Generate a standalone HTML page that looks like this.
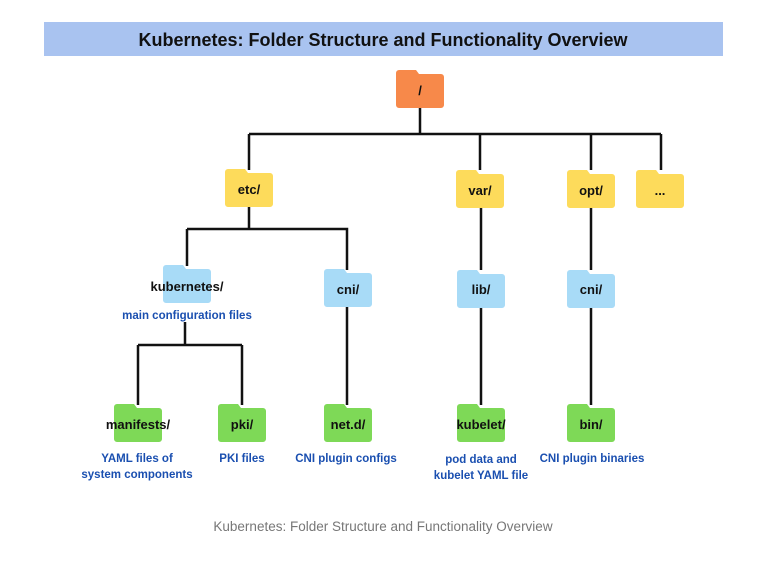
<!DOCTYPE html>
<html><head><style>
body{margin:0;background:#fff;}
svg text{font-family:"Liberation Sans",sans-serif;}
</style></head><body>
<svg width="762" height="572" viewBox="0 0 762 572" xmlns="http://www.w3.org/2000/svg">
<defs>
<g id="f"><path d="M0,3 a3,3 0 0 1 3,-3 h17 l3,4 h22 a3,3 0 0 1 3,3 v28 a3,3 0 0 1 -3,3 h-42 a3,3 0 0 1 -3,-3 z"/></g>
</defs>
<rect x="44" y="22" width="679" height="34" fill="#a9c3f0"/>
<text x="383" y="46" font-size="18" font-weight="bold" text-anchor="middle" fill="#111">Kubernetes: Folder Structure and Functionality Overview</text>
<g stroke="#111" stroke-width="2.5" fill="none">
<path d="M420,106 V134 M249,134 H661 M249,134 V170 M480,134 V170 M591,134 V170 M661,134 V170"/>
<path d="M249,207 V229 M187,229 H347 V270 M187,229 V266"/>
<path d="M185,322 V345 M138,345 H242 M138,345 V405 M242,345 V405 M347,307 V405"/>
<path d="M481,208 V270 M481,307 V405 M591,208 V270 M591,307 V405"/>
</g>
<use href="#f" x="396" y="70" fill="#f7894a"/>
<use href="#f" x="225" y="169" fill="#fddb5b"/>
<use href="#f" x="456" y="170" fill="#fddb5b"/>
<use href="#f" x="567" y="170" fill="#fddb5b"/>
<use href="#f" x="636" y="170" fill="#fddb5b"/>
<use href="#f" x="163" y="265" fill="#a8dbf7"/>
<use href="#f" x="324" y="269" fill="#a8dbf7"/>
<use href="#f" x="457" y="270" fill="#a8dbf7"/>
<use href="#f" x="567" y="270" fill="#a8dbf7"/>
<use href="#f" x="114" y="404" fill="#7ed957"/>
<use href="#f" x="218" y="404" fill="#7ed957"/>
<use href="#f" x="324" y="404" fill="#7ed957"/>
<use href="#f" x="457" y="404" fill="#7ed957"/>
<use href="#f" x="567" y="404" fill="#7ed957"/>
<g font-size="13" font-weight="bold" fill="#111" text-anchor="middle">
<text x="420" y="95">/</text>
<text x="249" y="194">etc/</text>
<text x="480" y="195">var/</text>
<text x="591" y="195">opt/</text>
<text x="660" y="195">...</text>
<text x="187" y="291">kubernetes/</text>
<text x="348" y="294">cni/</text>
<text x="481" y="294">lib/</text>
<text x="591" y="294">cni/</text>
<text x="138" y="429">manifests/</text>
<text x="242" y="429">pki/</text>
<text x="348" y="429">net.d/</text>
<text x="481" y="429">kubelet/</text>
<text x="591" y="429">bin/</text>
</g>
<g font-size="11.5" font-weight="bold" fill="#1a4fb0" text-anchor="middle">
<text x="187" y="319">main configuration files</text>
<text x="137" y="462">YAML files of</text>
<text x="137" y="478">system components</text>
<text x="242" y="462">PKI files</text>
<text x="346" y="462">CNI plugin configs</text>
<text x="481" y="463">pod data and</text>
<text x="481" y="479">kubelet YAML file</text>
<text x="592" y="462">CNI plugin binaries</text>
</g>
<text x="383" y="531" font-size="13.5" fill="#777" text-anchor="middle">Kubernetes: Folder Structure and Functionality Overview</text>
</svg>
</body></html>
